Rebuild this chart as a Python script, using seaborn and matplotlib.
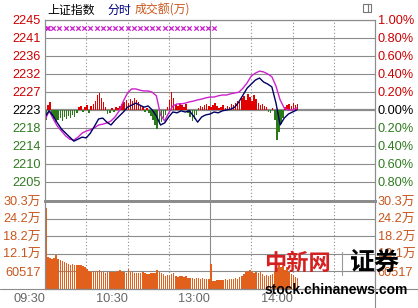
import numpy as np
import pandas as pd
import matplotlib
matplotlib.use("Agg")
import matplotlib.pyplot as plt
import seaborn as sns
from matplotlib.patches import Rectangle
from matplotlib.lines import Line2D

sns.set_style("white")
plt.rcParams['font.family'] = ['Liberation Sans', 'Noto Sans CJK SC', 'DejaVu Sans']

# ---------------- data ----------------
PRE_CLOSE = 2223.0
price_tick_labels = ["2245", "2241", "2236", "2232", "2227", "2223", "2218", "2214", "2210", "2205"]
pct_tick_labels = ["1.00%", "0.80%", "0.60%", "0.40%", "0.20%", "0.00%", "0.20%", "0.40%", "0.60%", "0.80%"]
vol_tick_labels = ["30.3万", "24.2万", "18.2万", "12.1万", "60517"]
vol_tick_values = [30.2585, 24.2068, 18.1551, 12.1034, 6.0517]   # in 万
time_labels = ["09:30", "10:30", "13:00", "14:00"]
time_label_minutes = [0, 60, 120, 180]

# minutes from 09:30 (trading minutes) for line samples
line_minutes = list(range(0, 184, 3))
index_price = [2221.3, 2222.8, 2221.5, 2219.8, 2218.3, 2217.3, 2216.3, 2215.3, 2215.8, 2216.3,
               2216.1, 2217.3, 2219.0, 2220.8, 2221.0, 2220.0, 2219.3, 2220.5, 2221.5, 2222.5,
               2223.7, 2224.2, 2224.7, 2224.2, 2223.7, 2224.0, 2223.0, 2221.5, 2219.3, 2219.8,
               2221.3, 2222.5, 2222.3, 2222.8, 2222.5, 2222.8, 2221.5, 2220.0, 2221.3, 2221.8,
               2222.0, 2222.5, 2222.3, 2222.8, 2223.0, 2223.2, 2223.7, 2225.0, 2226.7, 2228.4,
               2229.4, 2230.4, 2230.9, 2229.9, 2229.4, 2228.7, 2224.7, 2219.3, 2221.0, 2222.0,
               2222.5, 2223.0]
avg_price = [2220.5, 2222.8, 2220.8, 2219.0, 2217.8, 2216.6, 2215.8, 2215.6, 2216.3, 2217.3,
             2217.8, 2218.1, 2218.6, 2219.3, 2219.5, 2219.8, 2220.3, 2221.3, 2222.8, 2225.2,
             2227.2, 2228.2, 2228.2, 2227.9, 2227.7, 2227.7, 2227.4, 2226.5, 2221.8, 2220.3,
             2222.3, 2224.0, 2224.5, 2224.5, 2224.7, 2225.0, 2225.2, 2225.5, 2225.7, 2226.0,
             2226.2, 2226.2, 2226.5, 2226.7, 2226.7, 2227.0, 2227.2, 2227.4, 2228.4, 2229.7,
             2231.4, 2232.1, 2232.6, 2232.4, 2231.9, 2231.2, 2228.9, 2225.5, 2223.5, 2223.0,
             2223.0, 2223.5]

# bar slots: one every 1.5 trading minutes
SLOT_MIN = 1.5
strength = [-2.5, 1.2, 2.0, -1.5, -2.2, -3.0, -2.5, -2.0, -2.7, -1.7,
            -2.2, -1.5, -2.0, -1.2, -1.7, -0.7, 0.7, 1.0, -0.5, 0.7,
            1.2, -0.7, 1.0, 1.5, 2.2, 3.7, 4.2, 3.0, 2.0, 0.7,
            -1.0, -0.7, 0.5, -0.5, 0.7, 0.5, 1.0, 1.5, 2.0, 2.5,
            1.7, 2.7, 2.2, 3.0, 2.5, 2.0, 1.2, 0.7, -0.5, 0.5,
            -0.7, -1.5, -2.5, -3.7, -4.7, -3.5, -3.0, -2.0, -1.2, 0.7,
            2.5, 4.4, 3.0, 1.5, 1.0, 1.7, 1.2, 0.7, 1.5, -0.7,
            -1.7, -2.7, -2.2, -1.2, 0.5, 1.0, 0.7, 1.2, 1.5, 1.0,
            0.7, 1.2, 1.7, 1.0, 0.5, 0.7, 1.2, 0.5, 1.0, 0.7,
            1.5, 1.2, 1.7, 2.2, 2.0, 3.0, 3.5, 2.5, 4.0, 3.2,
            2.2, 3.7, 2.7, 1.7, 1.2, 1.5, 1.0, 0.7, -0.5, -0.7,
            0.5, -2.5, -7.4, -5.4, -3.5, -2.0, 0.7, 1.2, 1.5, 1.0,
            1.7, 1.2, 1.5]
volume_wan = [27.8, 11.0, 10.6, 10.2, 10.8, 11.7, 10.3, 9.9, 9.6, 9.4,
              9.0, 8.6, 8.3, 8.6, 8.2, 8.4, 8.1, 8.3, 8.0, 7.4,
              6.8, 6.2, 5.9, 6.1, 6.0, 6.3, 6.5, 6.0, 5.7, 5.5,
              5.9, 5.8, 6.0, 5.9, 5.7, 6.1, 6.5, 5.8, 5.9, 5.6,
              6.9, 5.8, 5.7, 5.5, 5.6, 5.4, 5.5, 5.8, 5.5, 5.3,
              5.2, 5.4, 5.5, 5.6, 6.5, 5.8, 5.5, 5.2, 4.6, 4.8,
              4.3, 5.2, 5.6, 4.6, 4.2, 4.4, 4.5, 4.0, 4.3, 3.9,
              3.7, 3.9, 3.6, 3.8, 3.7, 3.5, 3.8, 3.6, 3.5, 3.4,
              8.6, 2.8, 2.9, 3.1, 3.0, 3.2, 3.1, 3.3, 3.2, 3.4,
              3.3, 3.5, 3.8, 3.6, 4.0, 4.3, 5.0, 5.8, 6.2, 6.5,
              5.9, 5.5, 5.8, 5.4, 5.7, 5.0, 4.6, 4.8, 4.5, 4.9,
              5.3, 5.8, 7.2, 8.3, 7.6, 8.0, 6.6, 7.4, 6.0, 5.2,
              4.8, 4.0, 3.8]
# news flag markers (trading minutes)
flag_minutes = [0, 0.8, 4.5, 9, 13.5, 18, 22.5, 27, 31.5, 36, 40.5, 45, 49.5, 54, 58.5,
                63, 67.5, 72, 76.5, 81, 85.5, 90, 94.5, 99, 103.5, 108, 112.5, 117, 121.5]
FLAG_LEVEL = 2243.3

# ---------------- styles ----------------
GRID = "#8c8c8c"
RED = "#cc0000"
BAR_RED = "#e00000"
GREEN = "#2f7a1f"
BAR_GREEN = "#2a7a18"
ORANGE = "#c8561c"
BAR_ORANGE = "#e0601c"
NAVY = "#000066"
MAGENTA = "#cc22cc"

W, H = 418, 308
fig = plt.figure(figsize=(W / 100, H / 100), dpi=100)
fig.patch.set_facecolor("white")

def fx(px):
    return px / W

def fy(py):
    return 1 - py / H

ax = fig.add_axes([fx(45), fy(200), fx(330), (180) / H])
axv = fig.add_axes([fx(45), fy(289), fx(330), (88) / H])

lo, hi = PRE_CLOSE * 0.99, PRE_CLOSE * 1.01
tick_vals = [PRE_CLOSE * (1 + 0.002 * k) for k in range(5, -5, -1)]

# ---------- price panel ----------
ax.set_xlim(0, 240)
ax.set_ylim(lo, hi)
for v in tick_vals:
    if abs(v - PRE_CLOSE) < 1e-6:
        ax.axhline(v, color=GRID, lw=1.6, zorder=1)
    else:
        ax.axhline(v, color=GRID, lw=0.8, zorder=1)
for m in [30, 60, 90, 150, 180, 210]:
    ax.axvline(m, color=GRID, lw=0.8, ls=(0, (1, 2)), zorder=1)
ax.axvline(120, color=GRID, lw=0.8, zorder=1)

slot_x = [i * SLOT_MIN + 0.6 for i in range(len(strength))]
cols = [BAR_RED if s > 0 else BAR_GREEN for s in strength]
ax.bar(slot_x, strength, bottom=PRE_CLOSE, width=1.1, color=cols, linewidth=0,
       antialiased=False, zorder=2)

df_lines = pd.DataFrame({"minute": line_minutes, "index": index_price, "avg": avg_price})
sns.lineplot(data=df_lines, x="minute", y="avg", ax=ax, color=MAGENTA, lw=1.0, zorder=3, estimator=None)
sns.lineplot(data=df_lines, x="minute", y="index", ax=ax, color=NAVY, lw=1.0, zorder=4, estimator=None)

sns.scatterplot(x=[m + 1.5 for m in flag_minutes], y=[FLAG_LEVEL] * len(flag_minutes), ax=ax,
                marker="x", s=10, color=MAGENTA, linewidth=0.9, zorder=5, legend=False)

ax.set_xlabel("")
ax.set_ylabel("")
ax.set_xticks([])
ax.set_yticks(tick_vals)
ax.set_yticklabels(price_tick_labels)
for i, lbl in enumerate(ax.get_yticklabels()):
    lbl.set_color(RED if i < 5 else ("black" if i == 5 else GREEN))
    lbl.set_fontsize(9.2)
ax.tick_params(axis="y", length=0, pad=3)

axr = ax.twinx()
axr.set_ylim(lo, hi)
axr.set_yticks(tick_vals)
axr.set_yticklabels(pct_tick_labels)
for i, lbl in enumerate(axr.get_yticklabels()):
    lbl.set_color(RED if i < 5 else ("black" if i == 5 else GREEN))
    lbl.set_fontsize(9.2)
axr.tick_params(axis="y", length=0, pad=2)

for a in (ax, axr):
    for s in a.spines.values():
        s.set_color(GRID)
        s.set_linewidth(0.8)
    a.spines["bottom"].set_visible(False)

# ---------- volume panel ----------
axv.set_xlim(0, 240)
axv.set_ylim(0, vol_tick_values[0])
for v in vol_tick_values[1:]:
    axv.axhline(v, color=GRID, lw=0.8, zorder=1)
for m in [30, 60, 90, 150, 180, 210]:
    axv.axvline(m, color=GRID, lw=0.8, ls=(0, (1, 2)), zorder=1)
axv.axvline(120, color=GRID, lw=0.8, zorder=1)

vol_x = [i * SLOT_MIN + 0.6 for i in range(len(volume_wan))]
axv.bar(vol_x, volume_wan, width=1.1, color=BAR_ORANGE, linewidth=0, antialiased=False, zorder=2)

axv.set_yticks(vol_tick_values)
axv.set_yticklabels(vol_tick_labels)
for lbl in axv.get_yticklabels():
    lbl.set_color(ORANGE)
    lbl.set_fontsize(9.2)
    lbl.set_family(['Liberation Sans', 'Noto Sans CJK SC'])
axv.tick_params(axis="y", length=0, pad=3)
axv.set_xticks(time_label_minutes)
axv.set_xticklabels(time_labels)
for lbl in axv.get_xticklabels():
    lbl.set_ha("right")
    lbl.set_color("#666666")
    lbl.set_fontsize(9.2)
axv.tick_params(axis="x", length=0, pad=3)

axvr = axv.twinx()
axvr.set_ylim(0, vol_tick_values[0])
axvr.set_yticks(vol_tick_values)
axvr.set_yticklabels(vol_tick_labels)
for lbl in axvr.get_yticklabels():
    lbl.set_color(ORANGE)
    lbl.set_fontsize(9.2)
    lbl.set_family(['Liberation Sans', 'Noto Sans CJK SC'])
axvr.tick_params(axis="y", length=0, pad=2)

for a in (axv, axvr):
    for s in a.spines.values():
        s.set_color(GRID)
        s.set_linewidth(0.8)
    a.spines["top"].set_linewidth(2.0)

# ---------- frame extras ----------
fig.add_artist(Line2D([0, 1], [fy(289), fy(289)], transform=fig.transFigure, color=GRID, lw=0.8))
fig.add_artist(Line2D([fx(375), fx(375)], [fy(289), 0], transform=fig.transFigure, color=GRID, lw=0.8))
fig.add_artist(Rectangle((fx(363), fy(12)), fx(8), 8 / H, transform=fig.transFigure,
                         fill=False, edgecolor="#777777", lw=0.8))
fig.add_artist(Line2D([fx(368), fx(368)], [fy(12), fy(4)], transform=fig.transFigure, color="#777777", lw=0.8))

# ---------- titles ----------
cjk = ['Noto Sans CJK SC', 'DejaVu Sans']
fig.text(fx(47), fy(10), "上证指数", color="black", fontsize=8.6, va="center", ha="left", family=cjk)
fig.text(fx(107), fy(10), "分时", color="#000080", fontsize=8.6, va="center", ha="left", family=cjk)
fig.text(fx(135), fy(10), "成交额(万)", color=ORANGE, fontsize=8.6, va="center", ha="left", family=cjk)

# ---------- watermark ----------
fig.text(fx(264), fy(263), "中新网", color="#d42020", fontsize=16, fontweight="bold",
         va="center", ha="left", family=cjk, zorder=10)
fig.add_artist(Line2D([fx(342), fx(342)], [fy(275), fy(252)], transform=fig.transFigure, color="#999999", lw=0.8))
fig.text(fx(350), fy(263), "证券", color="black", fontsize=18, fontweight="heavy",
         va="center", ha="left", family=cjk, zorder=10)
fig.text(fx(265), fy(290), "stock.chinanews.com", color="black", fontsize=10, fontweight="bold",
         va="center", ha="left", family=['Liberation Sans', 'DejaVu Sans'], zorder=10)

fig.savefig("out.png", dpi=100, facecolor="white")
